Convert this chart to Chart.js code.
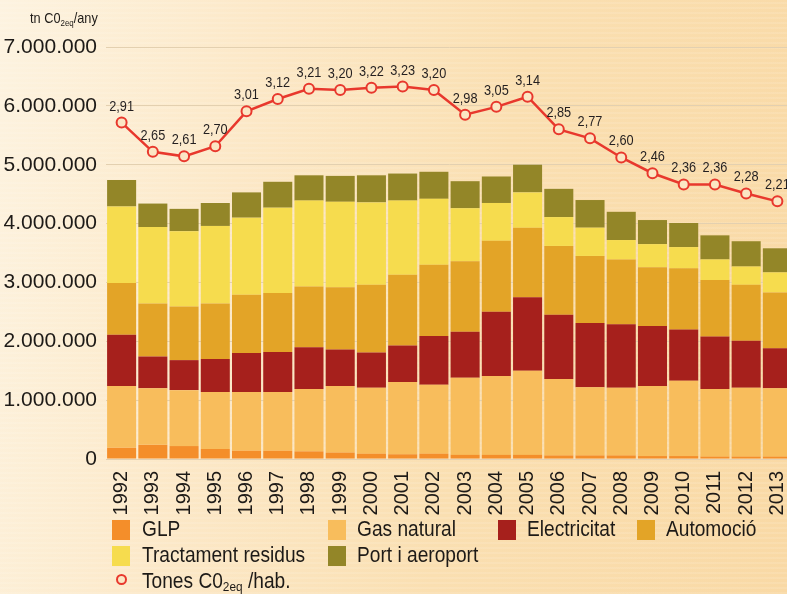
<!DOCTYPE html>
<html>
<head>
<meta charset="utf-8">
<script src="https://cdn.jsdelivr.net/npm/chart.js@4.4.1/dist/chart.umd.min.js"></script>
<style>
body {
    margin: 0;
    width: 787px;
    height: 594px;
    overflow: hidden;
    position: relative;
    font-family: 'Liberation Sans', Arial, sans-serif;
    color: #1d1a17;
    background:
        repeating-linear-gradient(0deg, rgba(255,255,255,0.10) 0px, rgba(255,255,255,0.10) 2px, rgba(255,255,255,0) 2px, rgba(255,255,255,0) 5px),
        linear-gradient(100deg, #fdf3e0 0%, #fce8c7 30%, #fadfb1 60%, #f9d9a5 100%);
}
#chart { position: absolute; left: 0; top: 0; }
.units { position: absolute; left: 30px; top: 9px; font-size: 15px; transform: scaleX(0.85); transform-origin: left center; white-space: nowrap; }
.units sub, .leg sub { font-size: 62%; vertical-align: -3px; }
.sw { position: absolute; width: 18px; height: 20px; }
.leg { position: absolute; font-size: 22px; line-height: 20px; white-space: nowrap; transform: scaleX(0.87); transform-origin: left center; }
.dot { position: absolute; width: 7px; height: 7px; border: 2px solid #e8382d; border-radius: 50%; background: #fbe6c4; }
</style>
</head>
<body>
<canvas id="chart" width="800" height="594"></canvas>
<div class="units">tn C0<sub>2eq</sub>/any</div>

<div class="sw" style="left:112px;top:520px;background:#f48e2a"></div>
<div class="leg" style="left:142px;top:519px">GLP</div>
<div class="sw" style="left:328px;top:520px;background:#f8bd5c"></div>
<div class="leg" style="left:357px;top:519px">Gas natural</div>
<div class="sw" style="left:498px;top:520px;background:#a6201c"></div>
<div class="leg" style="left:527px;top:519px">Electricitat</div>
<div class="sw" style="left:637px;top:520px;background:#e3a427"></div>
<div class="leg" style="left:666px;top:519px">Automoció</div>

<div class="sw" style="left:112px;top:546px;background:#f6dc4e"></div>
<div class="leg" style="left:142px;top:545px">Tractament residus</div>
<div class="sw" style="left:328px;top:546px;background:#938628"></div>
<div class="leg" style="left:357px;top:545px">Port i aeroport</div>

<div class="dot" style="left:116px;top:574px"></div>
<div class="leg" style="left:142px;top:571px">Tones C0<sub>2eq</sub> /hab.</div>

<script>
// years and values (tn CO2eq per year)
const years = ['1992','1993','1994','1995','1996','1997','1998','1999','2000','2001','2002','2003','2004','2005','2006','2007','2008','2009','2010','2011','2012','2013'];
const glp = [190000, 240000, 220000, 170000, 140000, 140000, 130000, 110000, 90000, 80000, 90000, 70000, 70000, 70000, 60000, 60000, 60000, 50000, 50000, 40000, 40000, 40000];
const gas_natural = [1050000, 960000, 950000, 970000, 1000000, 1000000, 1060000, 1130000, 1120000, 1230000, 1170000, 1310000, 1340000, 1430000, 1300000, 1160000, 1150000, 1190000, 1280000, 1150000, 1170000, 1160000];
const electricitat = [870000, 540000, 510000, 560000, 660000, 680000, 710000, 620000, 600000, 620000, 830000, 780000, 1090000, 1250000, 1090000, 1090000, 1080000, 1020000, 870000, 890000, 800000, 680000];
const automocio = [880000, 900000, 910000, 940000, 990000, 1000000, 1030000, 1060000, 1150000, 1200000, 1210000, 1200000, 1210000, 1180000, 1170000, 1140000, 1100000, 1000000, 1040000, 960000, 950000, 950000];
const tractament = [1300000, 1300000, 1280000, 1320000, 1310000, 1450000, 1460000, 1450000, 1400000, 1260000, 1120000, 900000, 640000, 600000, 490000, 480000, 330000, 390000, 360000, 350000, 310000, 340000];
const port_aeroport = [450000, 400000, 380000, 390000, 430000, 440000, 430000, 440000, 460000, 460000, 460000, 460000, 450000, 470000, 480000, 470000, 480000, 410000, 410000, 410000, 430000, 410000];
// tones per habitant
const tones_hab = [2.91, 2.65, 2.61, 2.70, 3.01, 3.12, 3.21, 3.20, 3.22, 3.23, 3.20, 2.98, 3.05, 3.14, 2.85, 2.77, 2.60, 2.46, 2.36, 2.36, 2.28, 2.21];
const y_ticks = [0, 1000000, 2000000, 3000000, 4000000, 5000000, 6000000, 7000000];

const sans = "'Liberation Sans', Arial, sans-serif";

//thousands with dots
function fmt(n){
    return String(n).replace(/\B(?=(\d{3})+(?!\d))/g, '.');
}

//writes the per-habitant values over the line (squeezed a bit, the original font is narrow)
const lineLabels = {
    id: 'lineLabels',
    afterDatasetsDraw(chart){
        const ctx = chart.ctx;
        const meta = chart.getDatasetMeta(0);
        ctx.save();
        ctx.font = '15px ' + sans;
        ctx.fillStyle = '#231f20';
        ctx.textAlign = 'center';
        ctx.textBaseline = 'alphabetic';
        meta.data.forEach(function(pt, i){
            ctx.save();
            ctx.translate(pt.x, pt.y - 12);
            ctx.scale(0.85, 1);
            ctx.fillText(tones_hab[i].toFixed(2).replace('.', ','), 0, 0);
            ctx.restore();
        });
        ctx.restore();
    }
};

function bar(label, data, color){
    return {
        type: 'bar',
        label: label,
        data: data,
        backgroundColor: color,
        borderWidth: 0,
        stack: 'total',
        order: 1,
        barPercentage: 0.93,
        categoryPercentage: 1.0
    };
}

const ctx = document.querySelector('#chart').getContext('2d');
new Chart(ctx, {
    data: {
        labels: years,
        datasets: [
            {
                type: 'line',
                label: 'Tones C02eq /hab.',
                data: tones_hab,
                yAxisID: 'y2',
                borderColor: '#e8382d',
                borderWidth: 2.5,
                pointRadius: 5,
                pointBorderWidth: 2,
                pointBackgroundColor: '#fbe6c4',
                pointBorderColor: '#e8382d',
                tension: 0,
                order: 0
            },
            bar('GLP', glp, '#f48e2a'),
            bar('Gas natural', gas_natural, '#f8bd5c'),
            bar('Electricitat', electricitat, '#a6201c'),
            bar('Automoció', automocio, '#e3a427'),
            bar('Tractament residus', tractament, '#f6dc4e'),
            bar('Port i aeroport', port_aeroport, '#938628')
        ]
    },
    options: {
        responsive: false,
        animation: false,
        devicePixelRatio: 1,
        layout: { padding: { top: 47, left: 0, right: 0, bottom: 0 } },
        plugins: {
            legend: { display: false },
            tooltip: { enabled: false }
        },
        scales: {
            x: {
                stacked: true,
                grid: { display: false },
                border: { display: false },
                ticks: {
                    minRotation: 90,
                    maxRotation: 90,
                    padding: 4,
                    color: '#1d1a17',
                    font: { family: sans, size: 20 }
                },
                afterFit(scale){
                    scale.height = 135;
                    scale.paddingLeft = 0;
                    scale.paddingRight = 0;
                }
            },
            y: {
                stacked: true,
                min: 0,
                max: 7000000,
                afterBuildTicks(scale){ scale.ticks = y_ticks.map(v => ({ value: v })); },
                grid: { color: '#e3d0b0', lineWidth: 1, drawTicks: false },
                border: { display: false },
                ticks: {
                    padding: 9,
                    color: '#1d1a17',
                    font: { family: sans, size: 21 },
                    callback: v => fmt(v)
                },
                afterFit(scale){ scale.width = 106; }
            },
            y2: {
                display: false,
                min: -0.08,
                max: 3.582
            }
        }
    },
    plugins: [lineLabels]
});
</script>
</body>
</html>
